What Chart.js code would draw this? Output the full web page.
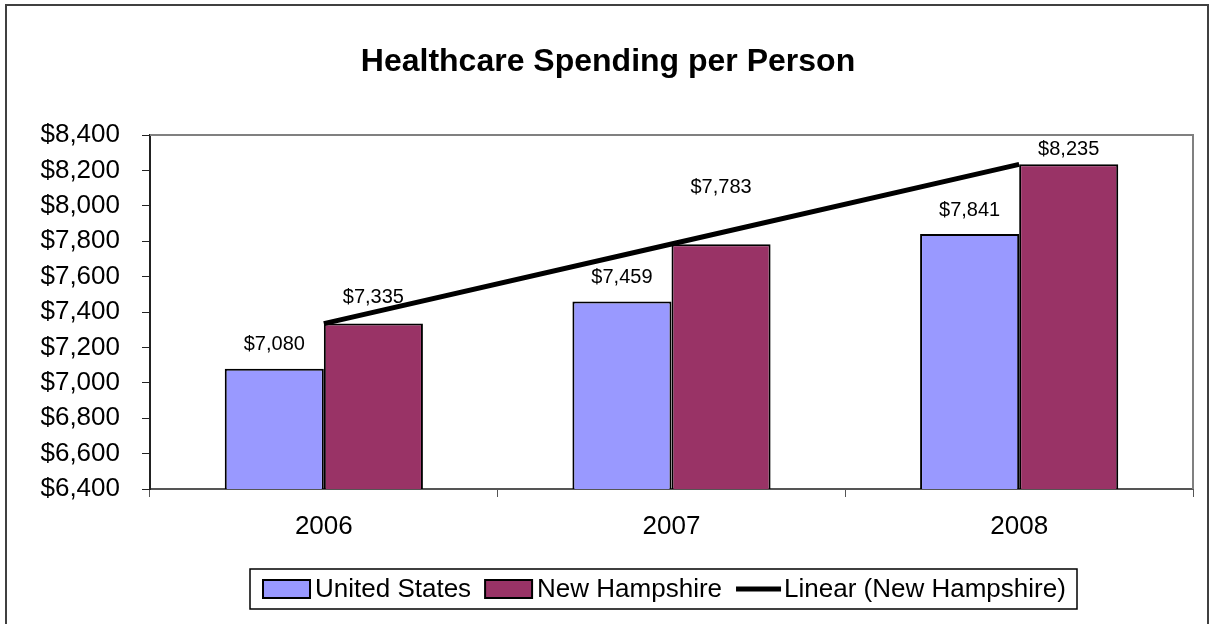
<!DOCTYPE html>
<html><head><meta charset="utf-8">
<script src="https://cdn.jsdelivr.net/npm/chart.js@4.4.1/dist/chart.umd.min.js"></script>
<style>html,body{margin:0;padding:0;background:#fff;}canvas{display:block;}</style>
</head><body>
<canvas id="c" width="1214" height="624"></canvas>
<script>
const categories = ['2006', '2007', '2008'];
const usValues = [7080, 7459, 7841];
const nhValues = [7335, 7783, 8235];
const trendValues = [7334, 7784, 8234];
const seriesNames = ['United States', 'New Hampshire', 'Linear (New Hampshire)'];
const chartTitle = 'Healthcare Spending per Person';
const yMin = 6400, yMax = 8400, yStep = 200;

const FONT = 'Arial, "Liberation Sans", sans-serif';
const usColor = '#9999FF', nhColor = '#993366';
const labelOffsetUS = [24, 24, 23];
const labelOffsetNH = [26, 57, 15];

const fmt = v => '$' + Number(v).toLocaleString('en-US');

const decor = {
  id: 'decor',
  beforeDatasetsDraw(chart) {
    const {ctx, chartArea: a} = chart;
    ctx.save();
    ctx.strokeStyle = '#808080';
    ctx.lineWidth = 2;
    ctx.beginPath();
    ctx.moveTo(a.left, a.top); ctx.lineTo(a.right, a.top); ctx.lineTo(a.right, a.bottom);
    ctx.stroke();
    ctx.restore();
  },
  afterDatasetsDraw(chart) {
    const {ctx} = chart;
    ctx.save();
    ctx.font = '20px ' + FONT;
    ctx.fillStyle = '#000';
    ctx.textAlign = 'center';
    ctx.textBaseline = 'middle';
    [[0, labelOffsetUS], [1, labelOffsetNH]].forEach(([di, offs]) => {
      const meta = chart.getDatasetMeta(di);
      meta.data.forEach((el, i) => {
        ctx.fillText(fmt(chart.data.datasets[di].data[i]), el.x, el.y - offs[i]);
      });
    });
    ctx.restore();
  },
  afterDraw(chart) {
    const {ctx} = chart;
    ctx.save();
    // outer frame
    ctx.strokeStyle = '#404040';
    ctx.lineWidth = 2;
    ctx.strokeRect(6, 5, 1202, 640);
    // title
    ctx.fillStyle = '#000';
    ctx.font = 'bold 32px ' + FONT;
    ctx.textAlign = 'center';
    ctx.textBaseline = 'middle';
    ctx.fillText(chartTitle, 608, 62);
    // legend
    const lx = 250, ly = 569, lw = 827, lh = 40;
    ctx.fillStyle = '#fff';
    ctx.fillRect(lx, ly, lw, lh);
    ctx.strokeStyle = '#000';
    ctx.lineWidth = 1.5;
    ctx.strokeRect(lx, ly, lw, lh);
    ctx.font = '26px ' + FONT;
    ctx.textAlign = 'left';
    ctx.textBaseline = 'middle';
    const cy = ly + lh / 2;
    let x = lx + 13;
    chart.data.datasets.forEach((ds) => {
      if (ds.type === 'line') {
        ctx.strokeStyle = ds.borderColor;
        ctx.lineWidth = 5;
        ctx.beginPath(); ctx.moveTo(x, cy); ctx.lineTo(x + 45, cy); ctx.stroke();
        x += 48;
      } else {
        ctx.fillStyle = ds.backgroundColor;
        ctx.fillRect(x, cy - 9, 47, 18);
        ctx.strokeStyle = '#000';
        ctx.lineWidth = 2;
        ctx.strokeRect(x, cy - 9, 47, 18);
        x += 52;
      }
      ctx.fillStyle = '#000';
      ctx.fillText(ds.label, x, cy + 1);
      x += ctx.measureText(ds.label).width + 14;
    });
    ctx.restore();
  }
};

new Chart(document.getElementById('c'), {
  data: {
    labels: categories,
    datasets: [
      {type: 'bar', label: seriesNames[0], data: usValues, backgroundColor: usColor,
       borderColor: '#000', borderWidth: 2, categoryPercentage: 0.57, barPercentage: 1, order: 1},
      {type: 'bar', label: seriesNames[1], data: nhValues, backgroundColor: nhColor,
       borderColor: '#000', borderWidth: 2, categoryPercentage: 0.57, barPercentage: 1, order: 1},
      {type: 'line', label: seriesNames[2], data: trendValues, borderColor: '#000',
       borderWidth: 5, pointRadius: 0, fill: false, tension: 0, order: 0}
    ]
  },
  options: {
    responsive: false,
    animation: false,
    devicePixelRatio: 1,
    layout: {padding: {left: 0, right: 21, top: 135, bottom: 0}},
    plugins: {legend: {display: false}, title: {display: false}, tooltip: {enabled: false}},
    scales: {
      x: {
        offset: true,
        grid: {display: true, drawOnChartArea: false, drawTicks: true, tickLength: 8, color: '#555', offset: true},
        border: {display: true, color: '#555', width: 2},
        ticks: {color: '#000', font: {size: 26, family: FONT}, padding: 14},
        afterFit(s) { s.height = 135; }
      },
      y: {
        min: yMin, max: yMax,
        grid: {display: true, drawOnChartArea: false, drawTicks: true, tickLength: 8, color: '#222'},
        border: {display: true, color: '#222', width: 2},
        ticks: {stepSize: yStep, color: '#000', font: {size: 26, family: FONT}, padding: 22,
                callback: v => fmt(v)},
        afterFit(s) { s.width = 150; }
      }
    }
  },
  plugins: [decor]
});
</script>
</body></html>
